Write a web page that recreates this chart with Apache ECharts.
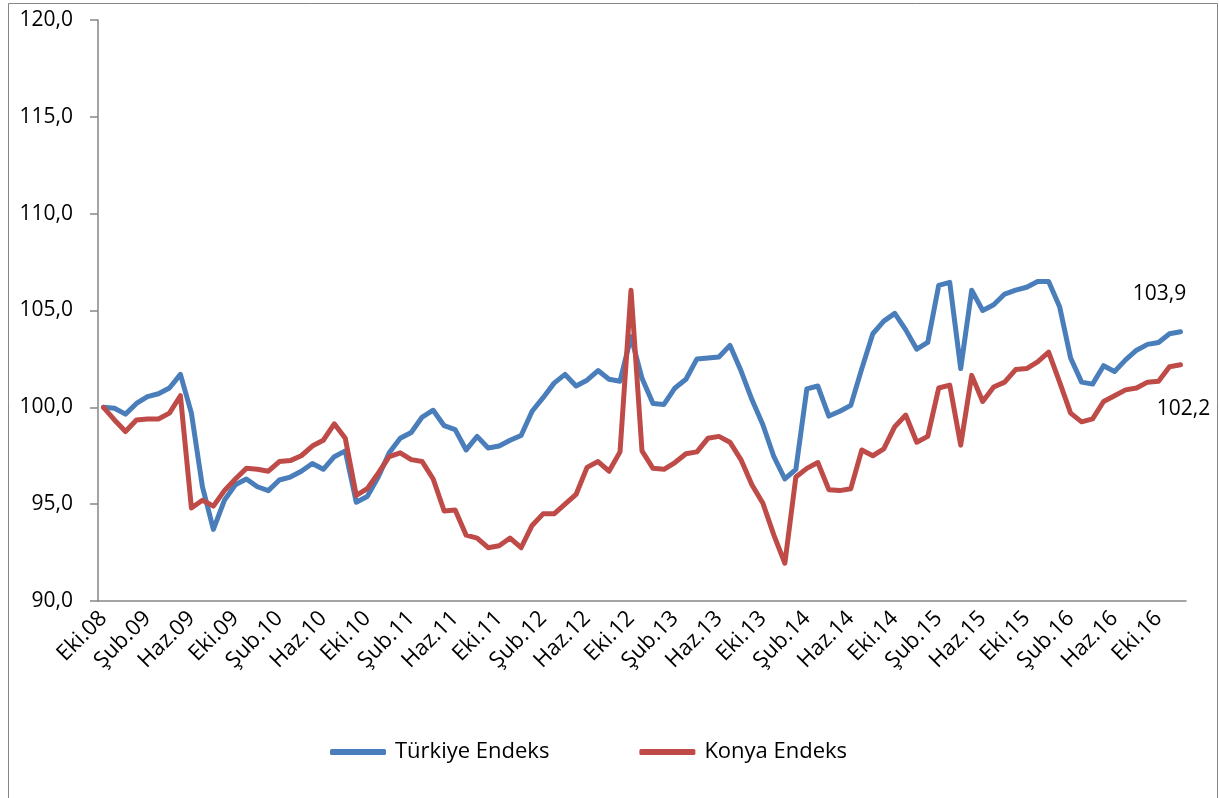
<!DOCTYPE html>
<html>
<head>
<meta charset="utf-8">
<title>Türkiye ve Konya Endeks</title>
<script src="https://cdn.jsdelivr.net/npm/echarts@6/dist/echarts.min.js"></script>
<style>
  html, body { margin: 0; padding: 0; background: #fff; }
  #chart { width: 1219px; height: 798px; }
</style>
</head>
<body>
<div id="chart"></div>
<script>
// aylar (Türkçe kısaltmalar), seri Ekim 2008 - Aralık 2016
const monthNames = ['Oca', 'Şub', 'Mar', 'Nis', 'May', 'Haz', 'Tem', 'Ağu', 'Eyl', 'Eki', 'Kas', 'Ara']
const startYear = 2008
const startMonth = 9 // Eki

const turkiye = [
  100.0, 99.95, 99.65, 100.2, 100.55, 100.7, 101.0, 101.7, 99.7, 95.9,
  93.7, 95.2, 96.0, 96.3, 95.9, 95.7, 96.25, 96.4, 96.7, 97.1,
  96.8, 97.45, 97.75, 95.1, 95.4, 96.4, 97.65, 98.4, 98.7, 99.5,
  99.85, 99.05, 98.85, 97.8, 98.5, 97.9, 98.0, 98.3, 98.55, 99.8,
  100.5, 101.25, 101.7, 101.1, 101.4, 101.9, 101.45, 101.35, 103.65, 101.5,
  100.2, 100.15, 101.0, 101.45, 102.5, 102.55, 102.6, 103.2, 101.9, 100.4,
  99.1, 97.45, 96.3, 96.8, 100.95, 101.1, 99.55, 99.8, 100.1, 102.0,
  103.8, 104.45, 104.85, 104.0, 103.0, 103.35, 106.3, 106.45, 102.0, 106.05,
  105.0, 105.3, 105.85, 106.05, 106.2, 106.5, 106.5, 105.2, 102.55, 101.3,
  101.2, 102.15, 101.85, 102.45, 102.95, 103.25, 103.35, 103.8, 103.9
]

const konya = [
  100.0, 99.35, 98.75, 99.35, 99.4, 99.4, 99.7, 100.6, 94.8, 95.2,
  94.9, 95.7, 96.3, 96.85, 96.8, 96.7, 97.2, 97.25, 97.5, 98.0,
  98.3, 99.15, 98.4, 95.45, 95.8, 96.6, 97.45, 97.65, 97.3, 97.2,
  96.3, 94.65, 94.7, 93.4, 93.25, 92.75, 92.85, 93.25, 92.75, 93.9,
  94.5, 94.5, 95.0, 95.5, 96.9, 97.2, 96.7, 97.7, 106.05, 97.75,
  96.85, 96.8, 97.15, 97.6, 97.7, 98.4, 98.5, 98.2, 97.3, 96.0,
  95.05, 93.4, 91.95, 96.4, 96.85, 97.15, 95.75, 95.7, 95.8, 97.8,
  97.5, 97.85, 99.0, 99.6, 98.2, 98.5, 101.0, 101.15, 98.05, 101.65,
  100.3, 101.05, 101.3, 101.95, 102.0, 102.35, 102.85, 101.3, 99.7, 99.25,
  99.4, 100.3, 100.6, 100.9, 101.0, 101.3, 101.35, 102.1, 102.2
]

// kategori etiketleri: "Eki.08", "Kas.08", ...
const categories = turkiye.map((_, i) => {
  const m = (startMonth + i) % 12
  const y = startYear + Math.floor((startMonth + i) / 12)
  return monthNames[m] + '.' + String(y).slice(2)
})

const fmt = v => Number(v).toFixed(1).replace('.', ',')
const font = '"Open Sans", "Noto Sans", sans-serif'
const axisGray = '#868686'

const chart = echarts.init(document.getElementById('chart'))

const lastIdx = categories.length - 1

const option = {
  animation: false,
  textStyle: { fontFamily: font },
  graphic: [
    {
      type: 'rect',
      shape: { x: 8.5, y: 3.5, width: 1209, height: 800 },
      style: { fill: 'none', stroke: axisGray, lineWidth: 1 },
      silent: true
    }
  ],
  grid: { left: 98, right: 33, top: 20, bottom: 197 },
  legend: {
    bottom: 30,
    left: 325,
    itemWidth: 56,
    itemHeight: 6,
    itemGap: 90,
    icon: 'roundRect',
    textStyle: { fontSize: 22, color: '#000', fontFamily: font, padding: [0, 0, 0, 4] },
    data: ['Türkiye Endeks', 'Konya Endeks']
  },
  xAxis: {
    type: 'category',
    boundaryGap: true,
    data: categories,
    axisLine: { lineStyle: { color: axisGray, width: 1.5 } },
    axisTick: { interval: 3, length: 8, lineStyle: { color: axisGray, width: 1.5 } },
    axisLabel: {
      interval: 3,
      rotate: 45,
      margin: 14,
      fontSize: 22,
      color: '#000',
      fontFamily: font
    },
    splitLine: { show: false }
  },
  yAxis: {
    type: 'value',
    min: 90,
    max: 120,
    interval: 5,
    axisLine: { show: true, lineStyle: { color: axisGray, width: 1.5 } },
    axisTick: { show: true, length: 8, lineStyle: { color: axisGray, width: 1.5 } },
    axisLabel: {
      fontSize: 21,
      color: '#000',
      margin: 25,
      fontFamily: font,
      formatter: v => fmt(v)
    },
    splitLine: { show: false }
  },
  series: [
    {
      name: 'Türkiye Endeks',
      type: 'line',
      data: turkiye,
      showSymbol: false,
      symbol: 'none',
      color: '#4A7EBB',
      lineStyle: { width: 5, color: '#4A7EBB', cap: 'round', join: 'round' },
      markPoint: {
        symbol: 'circle',
        symbolSize: 1,
        itemStyle: { color: 'rgba(0,0,0,0)' },
        label: {
          show: true,
          position: 'inside',
          offset: [-21, -38],
          fontSize: 21,
          color: '#000',
          fontFamily: font,
          formatter: p => fmt(p.value)
        },
        data: [{ coord: [lastIdx, turkiye[lastIdx]], value: turkiye[lastIdx] }]
      }
    },
    {
      name: 'Konya Endeks',
      type: 'line',
      data: konya,
      showSymbol: false,
      symbol: 'none',
      color: '#BE4B48',
      lineStyle: { width: 5, color: '#BE4B48', cap: 'round', join: 'round' },
      markPoint: {
        symbol: 'circle',
        symbolSize: 1,
        itemStyle: { color: 'rgba(0,0,0,0)' },
        label: {
          show: true,
          position: 'inside',
          offset: [3, 44],
          fontSize: 21,
          color: '#000',
          fontFamily: font,
          formatter: p => fmt(p.value)
        },
        data: [{ coord: [lastIdx, konya[lastIdx]], value: konya[lastIdx] }]
      }
    }
  ]
}

chart.setOption(option)
</script>
</body>
</html>
